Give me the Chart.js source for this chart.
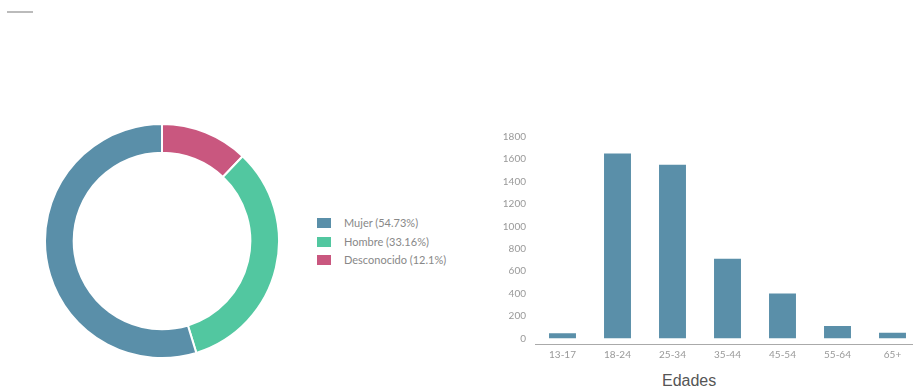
<!DOCTYPE html>
<html>
<head>
<meta charset="utf-8">
<script src="https://cdn.jsdelivr.net/npm/chart.js@4/dist/chart.umd.min.js"></script>
<style>
    html, body { margin: 0; padding: 0; width: 913px; height: 390px; overflow: hidden; background: #fff; }
    #topline { position: absolute; left: 7px; top: 11px; width: 26px; height: 2px; background: #bbb; }
    #genderChart { position: absolute; left: 44px; top: 123px; }
    #genderLegend { position: absolute; left: 317px; top: 214px; font-family: Lato, sans-serif; font-size: 11px; color: #888; }
    #genderLegend div { height: 18.5px; line-height: 18.5px; white-space: nowrap; }
    #genderLegend span.box { display: inline-block; width: 14px; height: 10px; margin-right: 13px; vertical-align: -1px; }
    #ageChart { position: absolute; left: 480px; top: 120px; }
    #ageTitle { position: absolute; left: 662px; top: 372px; font-family: "Liberation Sans", Arial, sans-serif; font-size: 16px; color: #555; }
</style>
</head>
<body>
<div id="topline"></div>
<canvas id="genderChart" width="236" height="236"></canvas>
<div id="genderLegend"></div>
<canvas id="ageChart" width="440" height="250"></canvas>
<div id="ageTitle">Edades</div>
<script>
// gender split (legend order)
const genderLabels = ['Mujer', 'Hombre', 'Desconocido'];
const genderValues = [54.73, 33.16, 12.1];
const genderColors = ['#5a8fa9', '#52c7a0', '#c9577f'];

// age groups
const ageLabels = ['13-17', '18-24', '25-34', '35-44', '45-54', '55-64', '65+'];
const ageValues = [45, 1650, 1550, 710, 400, 110, 50];
const ageTicks = [0, 200, 400, 600, 800, 1000, 1200, 1400, 1600, 1800];
const ageColor = '#5a8fa9';

document.addEventListener('DOMContentLoaded', function () {
    // doughnut draws clockwise from top: Desconocido, Hombre, Mujer
    new Chart(document.getElementById('genderChart'), {
        type: 'doughnut',
        data: {
            labels: genderLabels.slice().reverse(),
            datasets: [{
                data: genderValues.slice().reverse(),
                backgroundColor: genderColors.slice().reverse(),
                borderColor: '#fff',
                borderWidth: 2
            }]
        },
        options: {
            responsive: false,
            animation: false,
            cutout: '75.5%',
            plugins: { legend: { display: false }, tooltip: { enabled: false } }
        }
    });

    const legend = document.getElementById('genderLegend');
    genderLabels.forEach((label, i) => {
        const row = document.createElement('div');
        row.innerHTML = `<span class="box" style="background:${genderColors[i]}"></span>${label} (${genderValues[i]}%)`;
        legend.appendChild(row);
    });

    new Chart(document.getElementById('ageChart'), {
        type: 'bar',
        data: {
            labels: ageLabels,
            datasets: [{
                data: ageValues,
                backgroundColor: ageColor,
                barPercentage: 0.49,
                categoryPercentage: 1
            }]
        },
        options: {
            responsive: false,
            animation: false,
            layout: { padding: { top: 16.7 } },
            plugins: { legend: { display: false }, tooltip: { enabled: false } },
            scales: {
                x: {
                    grid: { display: false, drawTicks: false },
                    border: { color: '#aaa' },
                    ticks: { color: '#999', font: { family: 'Lato', size: 10 }, padding: 4 },
                    afterFit: scale => { scale.height = 25.2; }
                },
                y: {
                    min: -58,
                    max: 1800,
                    grid: { display: false, drawTicks: false },
                    border: { display: false },
                    ticks: { color: '#999', font: { family: 'Lato', size: 10 }, padding: 9, callback: v => String(v) },
                    afterBuildTicks: scale => { scale.ticks = ageTicks.map(v => ({ value: v })); },
                    afterFit: scale => { scale.width = 55; }
                }
            }
        }
    });
});
</script>
</body>
</html>
